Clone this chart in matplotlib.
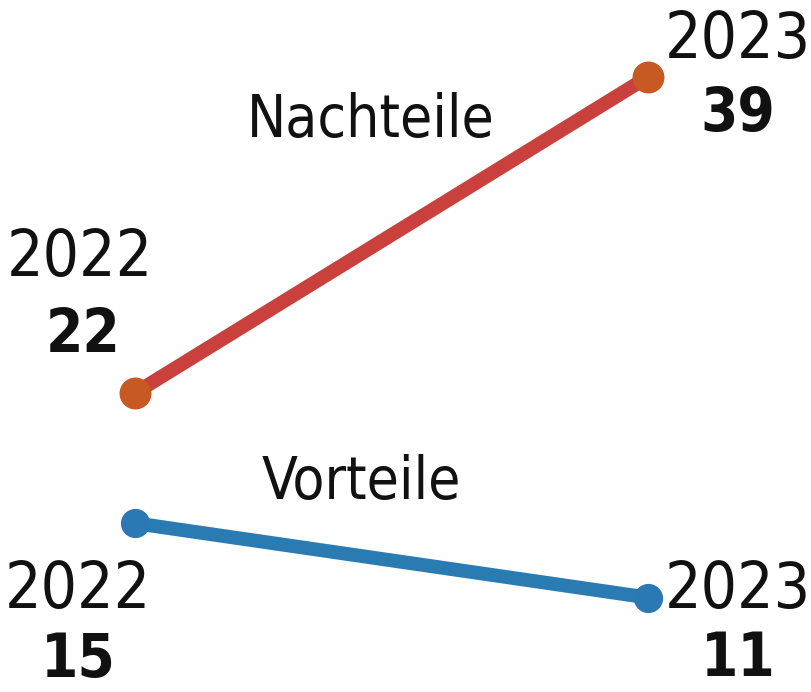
import matplotlib.pyplot as plt

years = ["2022", "2023"]
nachteile = [22, 39]
vorteile = [15, 11]
series_names = ["Nachteile", "Vorteile"]

red_line = "#c9403c"
red_marker = "#c65a22"
blue_line = "#2b7bb3"
blue_marker = "#2a78b4"

plt.rcParams['font.family'] = ['DejaVu Sans']

fig = plt.figure(figsize=(8.11, 6.92), dpi=100)
ax = fig.add_axes([0, 0, 1, 1])
ax.set_xlim(-0.263, 1.318)
ax.set_ylim(5.92, 43.14)
ax.axis('off')

xs = [0, 1]
ax.plot(xs, nachteile, color=red_line, lw=10, solid_capstyle='round', zorder=2)
ax.plot(xs, nachteile, 'o', color=red_marker, ms=22, zorder=3)
ax.plot(xs, vorteile, color=blue_line, lw=10, solid_capstyle='round', zorder=2)
ax.plot(xs, vorteile, 'o', color=blue_marker, ms=20, zorder=3)

year_fs = 46
num_fs = 43

def label(x, y, dx, dy, s, bold=False, fs=year_fs):
    ax.annotate(s, (x, y), xytext=(dx, dy), textcoords='offset pixels',
                ha='center', va='center', fontsize=fs, fontstretch='condensed',
                fontweight='bold' if bold else 'normal', color='#111111')

# Nachteile
label(0, nachteile[0], -55, 135, years[0])
label(0, nachteile[0], -52, 58, str(nachteile[0]), bold=True, fs=num_fs)
label(1, nachteile[1], 90, 37, years[1])
label(1, nachteile[1], 90, -38, str(nachteile[1]), bold=True, fs=num_fs)

# Vorteile
label(0, vorteile[0], -57, -67, years[0])
label(0, vorteile[0], -57, -137, str(vorteile[0]), bold=True, fs=num_fs)
label(1, vorteile[1], 90, 8, years[1])
label(1, vorteile[1], 90, -62, str(vorteile[1]), bold=True, fs=num_fs)

# series names near the middle of each line
label(0.5, sum(nachteile) / 2, -21, 115, series_names[0], fs=42)
label(0.5, sum(vorteile) / 2, -30, 78, series_names[1], fs=42)

fig.savefig("out.png", dpi=100)
